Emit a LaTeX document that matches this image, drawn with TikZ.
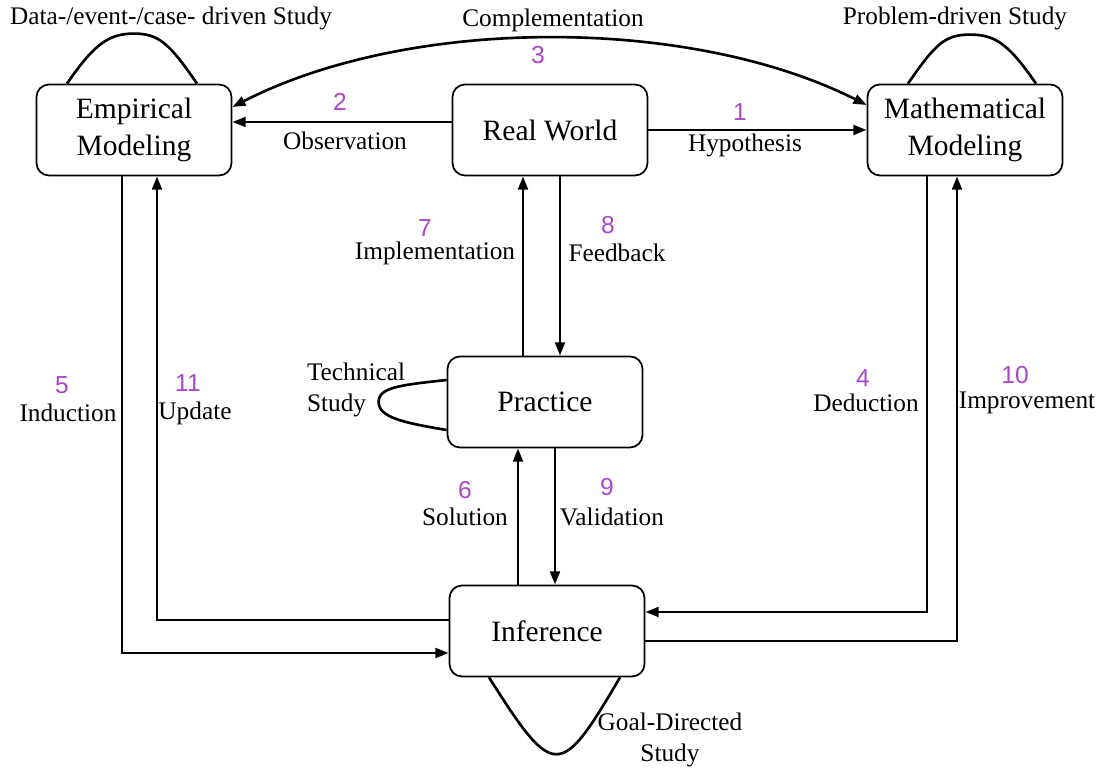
\documentclass[tikz,border=0pt]{standalone}
\usepackage{fontspec}
\setmainfont{Liberation Serif}
\newfontfamily\stepfont{Liberation Sans}
\usetikzlibrary{arrows.meta}
\definecolor{stepnum}{RGB}{170,70,200}

\begin{document}
\begin{tikzpicture}[thick,scale=1, every node/.style={scale=1},
    block/.style={draw, rounded corners=0.25cm, line width=1pt, minimum width=3.9cm, minimum height=1.82cm, align=center, font=\fontsize{16.8}{21.5}\selectfont},
    flow/.style={line width=1.5pt, -{Triangle[length=7.5pt,width=5.5pt]}},
    twoway/.style={line width=1.5pt, {Triangle[length=7.5pt,width=5.5pt]}-{Triangle[length=7.5pt,width=5.5pt]}},
    studyloop/.style={line width=1.5pt},
    lbl/.style={font=\fontsize{14.4}{18}\selectfont, align=center},
    num/.style={font=\stepfont\fontsize{14}{16}\selectfont, text=stepnum}]
    \useasboundingbox (0,0) rectangle (22.1,15.42);

    \node[block] (EM) at (2.68,12.82) {Empirical\\Modeling};
    \node[block] (RW) at (11.00,12.82) {Real World};
    \node[block] (MM) at (19.30,12.82) {Mathematical\\Modeling};
    \node[block] (PR) at (10.90,7.38) {Practice};
    \node[block] (IN) at (10.94,2.80) {Inference};

    \node[lbl] (dStudy) at (3.42,15.06) {Data-/event-/case- driven Study};
    \node[lbl] (pStudy) at (19.10,15.06) {Problem-driven Study};
    \node[lbl, align=left] (tStudy) at (7.12,7.62) {Technical\\Study};
    \node[lbl] (gStudy) at (13.40,0.62) {Goal-Directed\\Study};

    \node[num] (n1) at (14.80,13.18) {1};
    \node[lbl] (l1) at (14.90,12.52) {Hypothesis};
    \node[num] (n2) at (6.80,13.38) {2};
    \node[lbl] (l2) at (6.90,12.60) {Observation};
    \node[num] (n3) at (10.76,14.32) {3};
    \node[lbl] (l3) at (11.06,15.02) {Complementation};
    \node[num] (n4) at (17.26,7.86) {4};
    \node[lbl] (l4) at (17.32,7.36) {Deduction};
    \node[num] (n5) at (1.24,7.72) {5};
    \node[lbl] (l5) at (1.36,7.16) {Induction};
    \node[num] (n6) at (9.30,5.62) {6};
    \node[lbl] (l6) at (9.30,5.08) {Solution};
    \node[num] (n7) at (8.50,10.86) {7};
    \node[lbl] (l7) at (8.70,10.36) {Implementation};
    \node[num] (n8) at (12.16,10.92) {8};
    \node[lbl] (l8) at (12.34,10.36) {Feedback};
    \node[num] (n9) at (12.14,5.68) {9};
    \node[lbl] (l9) at (12.24,5.08) {Validation};
    \node[num] (n10) at (20.30,7.92) {10};
    \node[lbl] (l10) at (20.54,7.36) {Improvement};
    \node[num] (n11) at (3.76,7.76) {11};
    \node[lbl] (l11) at (3.90,7.16) {Update};

    \draw[flow] (RW) -- (MM);
    \draw[flow] ([yshift=0.16cm]RW.west) -- ([yshift=0.16cm]EM.east);
    \draw[twoway] ([yshift=0.46cm]EM.east) .. controls (8.2,15.1) and (13.8,15.1) .. ([yshift=0.5cm]MM.west);

    \draw[flow] ([xshift=-0.44cm]PR.north) coordinate (p7) -- (p7 |- RW.south);
    \draw[flow] ([xshift=0.2cm]RW.south) coordinate (p8) -- (p8 |- PR.north);
    \draw[flow] ([xshift=-0.58cm]IN.north) coordinate (p6) -- (p6 |- PR.south);
    \draw[flow] ([xshift=0.2cm]PR.south) coordinate (p9) -- (p9 |- IN.north);

    \draw[flow] ([xshift=-0.24cm]EM.south) |- ([yshift=-0.44cm]IN.west);
    \draw[flow] ([yshift=0.22cm]IN.west) -| ([xshift=0.46cm]EM.south);
    \draw[flow] ([xshift=-0.76cm]MM.south) |- ([yshift=0.38cm]IN.east);
    \draw[flow] ([yshift=-0.2cm]IN.east) -| ([xshift=-0.16cm]MM.south);

    \draw[studyloop] ([xshift=-1.34cm]EM.north) .. controls +(0.55,0.8) and +(-0.5,0) .. ([yshift=1cm]EM.north) .. controls +(0.5,0) and +(-0.55,0.8) .. ([xshift=1.26cm]EM.north);
    \draw[studyloop] ([xshift=-1.14cm]MM.north) .. controls +(0.55,0.8) and +(-0.5,0) .. ([xshift=0.1cm,yshift=0.98cm]MM.north) .. controls +(0.5,0) and +(-0.55,0.8) .. ([xshift=1.42cm]MM.north);
    \draw[studyloop] ([yshift=0.44cm]PR.west) .. controls +(-0.9,-0.1) and +(0,0.3) .. ([xshift=-1.36cm]PR.west) .. controls +(0,-0.3) and +(-0.9,0.15) .. ([yshift=-0.56cm]PR.west);
    \draw[studyloop] ([xshift=-1.16cm]IN.south) .. controls +(1.3,-2.05) and +(-1.2,-2.05) .. ([xshift=1.46cm]IN.south);

\end{tikzpicture}
\end{document}
